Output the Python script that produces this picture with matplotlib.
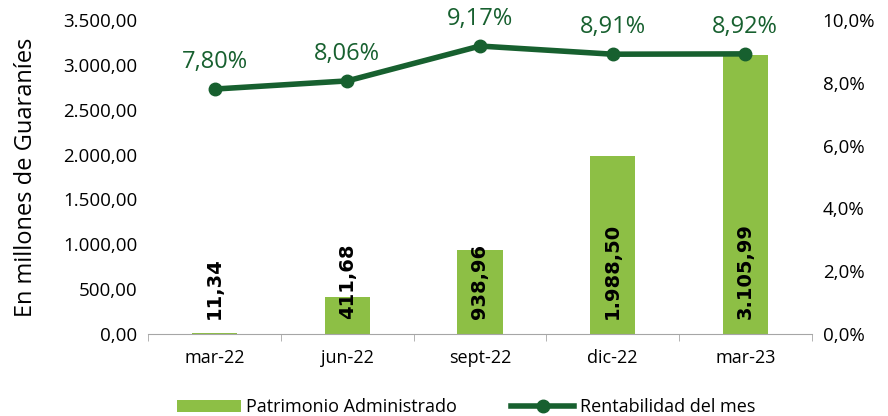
import numpy as np
import matplotlib.pyplot as plt

categorias = ['mar-22', 'jun-22', 'sept-22', 'dic-22', 'mar-23']
patrimonio = [11.34, 411.68, 938.96, 1988.50, 3105.99]
rentabilidad = [7.80, 8.06, 9.17, 8.91, 8.92]
etiquetas_patrimonio = ['11,34', '411,68', '938,96', '1.988,50', '3.105,99']
etiquetas_rent = ['7,80%', '8,06%', '9,17%', '8,91%', '8,92%']

verde_barra = '#8DBF45'
verde_linea = '#17602F'
gris = '#A6A6A6'

plt.rcParams['font.family'] = ['Open Sans', 'DejaVu Sans']

fig = plt.figure(figsize=(8.88, 4.16), dpi=100)
ax = fig.add_axes([0.167, 0.197, 0.747, 0.755])
ax2 = ax.twinx()

x = np.arange(len(categorias))
ax.bar(x, patrimonio, width=0.34, color=verde_barra, label='Patrimonio Administrado', zorder=2)
for xi, lab in zip(x, etiquetas_patrimonio):
    ax.text(xi, 170, lab, rotation=90, ha='center', va='bottom', fontsize=14,
            fontweight='bold', color='black', family='DejaVu Sans', zorder=3)

ax.set_xlim(-0.5, len(categorias) - 0.5)
ax.set_ylim(0, 3500)
ax.set_yticks(np.arange(0, 3501, 500))
ax.set_yticklabels([f'{int(v):,}'.replace(',', '.') + ',00' for v in np.arange(0, 3501, 500)],
                   fontsize=13.5)
ax.set_xticks(x)
ax.set_xticklabels(categorias, fontsize=13)
ax.set_xticks(np.arange(-0.5, len(categorias)), minor=True)
ax.tick_params(axis='x', which='major', length=0, pad=11)
ax.tick_params(axis='x', which='minor', length=5, color=gris)
ax.tick_params(axis='y', length=0, pad=8)
ax.set_ylabel('En millones de Guaraníes', fontsize=17, labelpad=18)
for s in ['top', 'right', 'left']:
    ax.spines[s].set_visible(False)
ax.spines['bottom'].set_color(gris)

ax2.plot(x, rentabilidad, color=verde_linea, lw=4, marker='o', ms=9,
         label='Rentabilidad del mes', zorder=4)
for xi, v, lab in zip(x, rentabilidad, etiquetas_rent):
    ax2.annotate(lab, (xi, v), xytext=(0, 11), textcoords='offset points',
                 ha='center', va='bottom', fontsize=17, color=verde_linea)
ax2.set_ylim(0, 10)
ax2.set_yticks(np.arange(0, 10.1, 2))
ax2.set_yticklabels([f'{v:.1f}%'.replace('.', ',') for v in np.arange(0, 10.1, 2)], fontsize=13.5)
ax2.tick_params(axis='y', length=0, pad=8)
for s in ax2.spines.values():
    s.set_visible(False)

h1, l1 = ax.get_legend_handles_labels()
h2, l2 = ax2.get_legend_handles_labels()
fig.legend(h1 + h2, l1 + l2, loc='lower center', bbox_to_anchor=(0.525, -0.04), ncol=2,
           frameon=False, fontsize=13, handlelength=3.5, columnspacing=3, handletextpad=0.3)

fig.savefig('out.png', dpi=100)
